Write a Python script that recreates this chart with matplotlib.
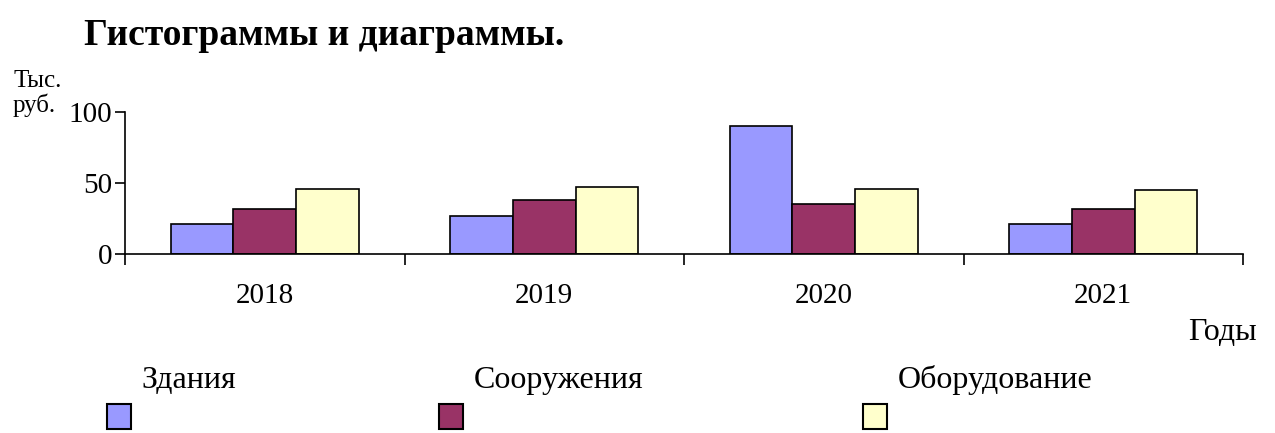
import numpy as np
import matplotlib
matplotlib.use('Agg')
import matplotlib.pyplot as plt
from matplotlib.patches import Rectangle

# Данные
anos = ['2018', '2019', '2020', '2021']
series = ['Здания', 'Сооружения', 'Оборудование']
zdaniya = [21, 27, 90, 21]
sooruzheniya = [32, 38, 35, 32]
oborudovanie = [46, 47, 46, 45]
cores = ['#9999FF', '#993366', '#FFFFCC']

plt.rcParams['font.family'] = ['Liberation Serif', 'DejaVu Serif']

fig = plt.figure(figsize=(12.75, 4.33), dpi=100)
ax = fig.add_axes([125/1275, 1-254/433, (1243-125)/1275, (254-112)/433])

x = np.arange(len(anos))
w = 0.224
for i, (vals, nome) in enumerate(zip([zdaniya, sooruzheniya, oborudovanie], series)):
    ax.bar(x + (i-1)*w, vals, w, color=cores[i], edgecolor='black', linewidth=1.2, label=nome)

ax.set_xlim(-0.5, len(anos)-0.5)
ax.set_ylim(0, 100)
ax.set_yticks([0, 50, 100])
ax.set_xticks(np.arange(-0.5, len(anos)), labels=[])
ax.set_xticks(x, labels=anos, minor=True)
ax.tick_params(axis='x', which='major', direction='out', length=8, width=1.2)
ax.tick_params(axis='x', which='minor', length=0, pad=21, labelsize=21)
ax.tick_params(axis='y', direction='out', length=7, width=1.2, pad=2, labelsize=21)
for s in ['top', 'right']:
    ax.spines[s].set_visible(False)
for s in ['left', 'bottom']:
    ax.spines[s].set_linewidth(1.2)

fig.text(84/1275, 1-45/433, 'Гистограммы и диаграммы.', fontsize=27, fontweight='bold', va='baseline')
fig.text(13/1275, 1-87/433, 'Тыс.', fontsize=18, va='baseline')
fig.text(13/1275, 1-112/433, 'руб.', fontsize=18, va='baseline')
fig.text(1257/1275, 1-340/433, 'Годы', fontsize=23, ha='right', va='baseline')

# Legenda
lab_x = [141, 474, 898]
sq_x = [107, 439, 863]
for i, nome in enumerate(series):
    fig.text(lab_x[i]/1275, 1-388/433, nome, fontsize=23, va='baseline')
    fig.patches.append(Rectangle((sq_x[i]/1275, 1-429/433), 24/1275, 25/433,
                                 transform=fig.transFigure, facecolor=cores[i],
                                 edgecolor='black', linewidth=1.5))

fig.savefig('out.png', dpi=100)
